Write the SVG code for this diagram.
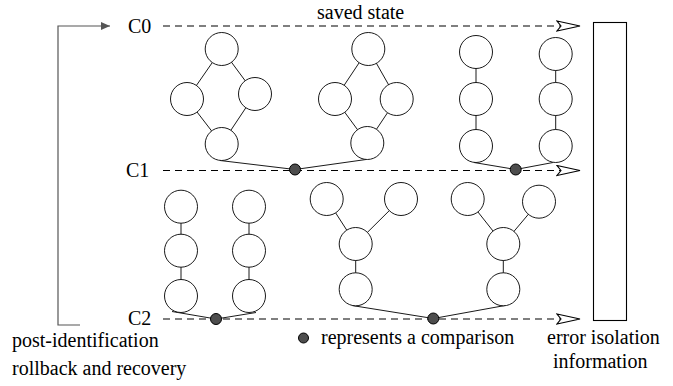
<svg xmlns="http://www.w3.org/2000/svg" width="673" height="386" viewBox="0 0 673 386">
<style>
.n{fill:#fff;stroke:#000;stroke-width:0.9}
.e{stroke:#000;stroke-width:0.9;fill:none}
.d{stroke:#000;stroke-width:1.1;stroke-dasharray:7 5;fill:none}
.cmp{fill:#4d4d4d;stroke:#000;stroke-width:1}
text{font-family:'Liberation Serif','DejaVu Serif','Times New Roman',serif;font-size:20px;fill:#000}
</style>
<defs>
<marker id="open" markerUnits="userSpaceOnUse" markerWidth="26" markerHeight="14" viewBox="-1 -1 26 14" refX="23" refY="5" orient="auto">
<path d="M0,0 L23,5 L0,10 L4,5 Z" fill="#fff" stroke="#000" stroke-width="1.1" stroke-dasharray="none"/>
</marker>
<marker id="fill" markerUnits="userSpaceOnUse" markerWidth="10" markerHeight="8" viewBox="0 0 10 8" refX="9" refY="4" orient="auto">
<path d="M0,0 L9,4 L0,8 Z" fill="#555"/>
</marker>
</defs>
<rect width="673" height="386" fill="#fff"/>
<g id="connectors">
<path class="d" d="M163,26 H580" marker-end="url(#open)"/>
<path class="d" d="M163,170.5 H580" marker-end="url(#open)"/>
<path class="d" d="M163,319 H580" marker-end="url(#open)"/>
<path d="M80,325 H58 V26 H110" fill="none" stroke="#555" stroke-width="1.2" marker-end="url(#fill)"/>
<path class="e" d="M221.7,49 L187,99 M221.7,49 L255,94 M187,99 L221.7,144 M255,94 L221.7,144"/>
<path class="e" d="M368.3,49 L335,99 M368.3,49 L396.7,99 M335,99 L367.3,143 M396.7,99 L367.3,143"/>
<path class="e" d="M476,52 V146 M555.7,54 V146"/>
<path class="e" d="M181,206.7 V296 M249,206.7 V296"/>
<path class="e" d="M326.7,199 L355.7,244 M401,199 L355.7,244 M355.7,244 V289.3"/>
<path class="e" d="M467.7,199 L503.3,244 M539,201.7 L503.3,244 M503.3,244 V289.3"/>
<path class="e" d="M220,160.5 L295,169.5 L366,159.5"/>
<path class="e" d="M474,162.5 L515.7,169.5 L553,162.5"/>
<path class="e" d="M172,311.5 L216,319 L256,312.5"/>
<path class="e" d="M352,305.5 L433.3,318.5 L505,305.5"/>
</g>
<g id="diamond1">
<circle class="n" cx="221.7" cy="49" r="16.5"/>
<circle class="n" cx="187" cy="99" r="16.5"/>
<circle class="n" cx="255" cy="94" r="16.5"/>
<circle class="n" cx="221.7" cy="144" r="16.5"/>
</g>
<g id="diamond2">
<circle class="n" cx="368.3" cy="49" r="16.5"/>
<circle class="n" cx="335" cy="99" r="16.5"/>
<circle class="n" cx="396.7" cy="99" r="16.5"/>
<circle class="n" cx="367.3" cy="143" r="16.5"/>
</g>
<g id="chainA">
<circle class="n" cx="476" cy="52" r="16.5"/>
<circle class="n" cx="476" cy="99" r="16.5"/>
<circle class="n" cx="476" cy="146" r="16.5"/>
</g>
<g id="chainB">
<circle class="n" cx="555.7" cy="54" r="16.5"/>
<circle class="n" cx="555.7" cy="99" r="16.5"/>
<circle class="n" cx="555.7" cy="146" r="16.5"/>
</g>
<g id="chainC">
<circle class="n" cx="181" cy="206.7" r="16.5"/>
<circle class="n" cx="181" cy="250.7" r="16.5"/>
<circle class="n" cx="181" cy="296" r="16.5"/>
</g>
<g id="chainD">
<circle class="n" cx="249" cy="206.7" r="16.5"/>
<circle class="n" cx="249" cy="250.7" r="16.5"/>
<circle class="n" cx="249" cy="296" r="16.5"/>
</g>
<g id="y1">
<circle class="n" cx="326.7" cy="199" r="16.5"/>
<circle class="n" cx="401" cy="199" r="16.5"/>
<circle class="n" cx="355.7" cy="244" r="16.5"/>
<circle class="n" cx="355.7" cy="289.3" r="16.5"/>
</g>
<g id="y2">
<circle class="n" cx="467.7" cy="199" r="16.5"/>
<circle class="n" cx="539" cy="201.7" r="16.5"/>
<circle class="n" cx="503.3" cy="244" r="16.5"/>
<circle class="n" cx="503.3" cy="289.3" r="16.5"/>
</g>
<g id="comparisons">
<circle class="cmp" cx="295" cy="169.5" r="5.5"/>
<circle class="cmp" cx="515.7" cy="169.5" r="5.5"/>
<circle class="cmp" cx="216" cy="319" r="5.5"/>
<circle class="cmp" cx="433.3" cy="318.5" r="5.5"/>
</g>
<g id="errorbox">
<rect x="593.5" y="22.5" width="33" height="298" fill="#fff" stroke="#000" stroke-width="1.1"/>
</g>
<g id="labels" font-family="Liberation Serif, serif">
<text x="128" y="33">C0</text>
<text x="126" y="177">C1</text>
<text x="128" y="324.5">C2</text>
<text x="12" y="347">post-identification</text>
<text x="12" y="375">rollback and recovery</text>
<text x="317" y="19">saved state</text>
<text x="547" y="344">error isolation</text>
<text x="553" y="368">information</text>
</g>
<g id="legend">
<circle class="cmp" cx="303.5" cy="338" r="5"/>
<text x="321" y="344">represents a comparison</text>
</g>
</svg>
